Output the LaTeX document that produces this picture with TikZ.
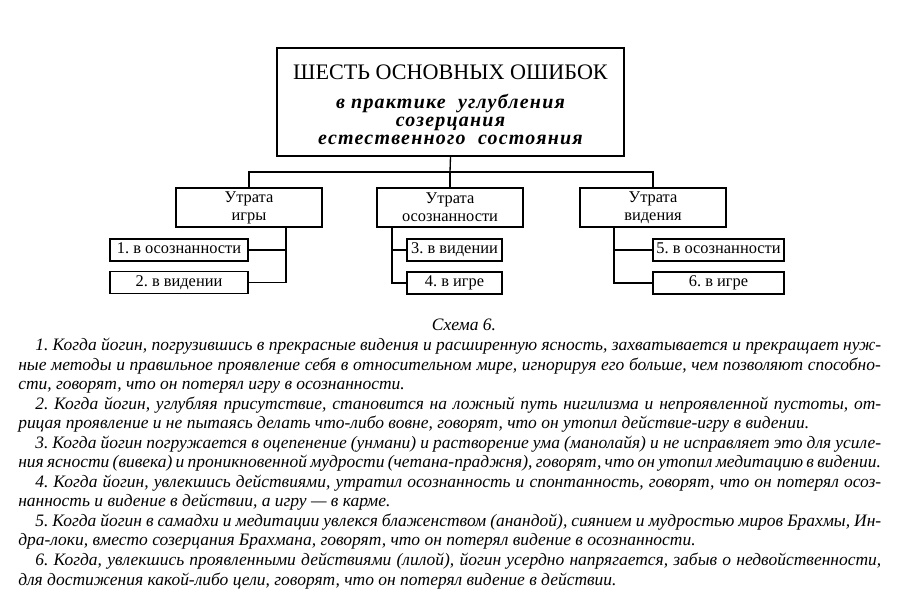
\documentclass[tikz,border=0pt]{standalone}
\usepackage{fontspec}
\setmainfont{Liberation Serif}
\newfontfamily\spacedfont[LetterSpace=6]{Liberation Serif}
\newlength\wfull \setlength\wfull{647pt}
\newlength\wind \setlength\wind{634.5pt}
\tikzset{
  box/.style={draw, line width=1pt, inner sep=0pt, align=center,
    font=\fontsize{12.3}{13.5}\selectfont},
  leaf/.style={box, minimum height=16.5pt, text height=8pt, text depth=2.2pt},
  link/.style={line width=1pt},
  txt/.style={anchor=base west, inner sep=0pt, font=\fontsize{13.1}{14}\selectfont\itshape},
}

\begin{document}
\frenchspacing
\begin{tikzpicture}[x=0.75pt,y=-0.75pt]
	\useasboundingbox (0,0) rectangle (900,616);
	% Заголовок
	\node[box, minimum width=260.25pt, minimum height=81pt] (title) at (450.5,102) {};
	\node[align=center, inner sep=0pt, font=\fontsize{15}{13.5}\selectfont] (titletext) at (450.5,105)
	  {{\fontsize{16.6}{18}\selectfont ШЕСТЬ ОСНОВНЫХ ОШИБОК}\\[8pt]
	   {\spacedfont\bfseries\itshape в практике~ углубления}\\
	   {\spacedfont\bfseries\itshape созерцания}\\
	   {\spacedfont\bfseries\itshape естественного~ состояния}};

	% Утраты
	\node[box, minimum width=109.5pt, minimum height=29.25pt] (igry) at (249,207.5) {Утрата\\игры};
	\node[box, minimum width=109.5pt, minimum height=29.25pt] (osoz) at (450,207.5) {Утрата\\осознанности};
	\node[box, minimum width=109.5pt, minimum height=29.25pt] (vid) at (653,207.5) {Утрата\\видения};

	\coordinate (bus) at (450,172);
	\draw[link] (title.south) -- (bus);
	\draw[link] (igry.north) |- (bus) -| (vid.north);
	\draw[link] (osoz.north) -- (bus);

	% Ошибки
	\node[leaf, minimum width=103.5pt] (e1) at (179,250) {1. в осознанности};
	\node[leaf, minimum width=103.5pt] (e2) at (179,282.5) {2. в видении};
	\node[leaf, minimum width=71.25pt] (e3) at (454.5,250) {3. в видении};
	\node[leaf, minimum width=71.25pt] (e4) at (454.5,283) {4. в игре};
	\node[leaf, minimum width=98.25pt] (e5) at (718.5,250) {5. в осознанности};
	\node[leaf, minimum width=98.25pt] (e6) at (718.5,283) {6. в игре};

	\coordinate (k1) at (286,227);
	\coordinate (k2) at (392,227);
	\coordinate (k3) at (614,227);
	\draw[link] (k1) |- (e2.east);
	\draw[link] (e1.east) -- (e1.east -| k1);
	\draw[link] (k2) |- (e4.west);
	\draw[link] (e3.west) -- (e3.west -| k2);
	\draw[link] (k3) |- (e6.west);
	\draw[link] (e5.west) -- (e5.west -| k3);

	% Подпись и пояснения
	\node[txt, anchor=base] (cap) at (464,331) {Схема 6.};
	\node[txt] (t1) at (35,351) {\makebox[\wind][s]{1. Когда йогин, погрузившись в прекрасные видения и расширенную ясность, захватывается и прекращает нуж-}};
	\node[txt] (t2) at (18,370.5) {\makebox[\wfull][s]{ные методы и правильное проявление себя в относительном мире, игнорируя его больше, чем позволяют способно-}};
	\node[txt] (t3) at (18,390) {сти, говорят, что он потерял игру в осознанности.};
	\node[txt] (t4) at (35,409.5) {\makebox[\wind][s]{2. Когда йогин, углубляя присутствие, становится на ложный путь нигилизма и непроявленной пустоты, от-}};
	\node[txt] (t5) at (18,429) {рицая проявление и не пытаясь делать что-либо вовне, говорят, что он утопил действие-игру в видении.};
	\node[txt] (t6) at (35,448.5) {\makebox[\wind][s]{3. Когда йогин погружается в оцепенение (унмани) и растворение ума (манолайя) и не исправляет это для усиле-}};
	\node[txt] (t7) at (18,468) {\makebox[\wfull][s]{ния ясности (вивека) и проникновенной мудрости (четана-праджня), говорят, что он утопил медитацию в видении.}};
	\node[txt] (t8) at (35,487.5) {\makebox[\wind][s]{4. Когда йогин, увлекшись действиями, утратил осознанность и спонтанность, говорят, что он потерял осоз-}};
	\node[txt] (t9) at (18,507) {нанность и видение в действии, а игру — в карме.};
	\node[txt] (t10) at (35,526.5) {\makebox[\wind][s]{5. Когда йогин в самадхи и медитации увлекся блаженством (анандой), сиянием и мудростью миров Брахмы, Ин-}};
	\node[txt] (t11) at (18,546) {дра-локи, вместо созерцания Брахмана, говорят, что он потерял видение в осознанности.};
	\node[txt] (t12) at (35,565.5) {\makebox[\wind][s]{6. Когда, увлекшись проявленными действиями (лилой), йогин усердно напрягается, забыв о недвойственности,}};
	\node[txt] (t13) at (18,585) {для достижения какой-либо цели, говорят, что он потерял видение в действии.};
\end{tikzpicture}
\end{document}
